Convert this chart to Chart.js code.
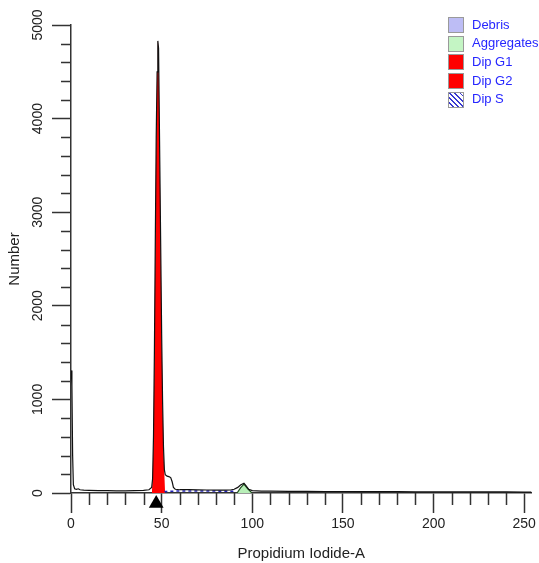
<!DOCTYPE html>
<html>
<head>
<meta charset="utf-8">
<script src="https://cdn.jsdelivr.net/npm/chart.js@4.4.1/dist/chart.umd.min.js"></script>
<style>
    body { margin: 0; background: #fff; }
    #wrap { position: relative; width: 539px; height: 563px; }
    .lg-box { position: absolute; width: 14px; height: 14px; border: 1px solid #9a9a9a; }
    .lg-text { position: absolute; font: 13px "Liberation Sans", Arial, sans-serif; color: #2626ff; line-height: 16px; white-space: nowrap; }
</style>
</head>
<body>
<div id="wrap">
    <canvas id="chart" width="539" height="563"></canvas>
    <div id="legend"></div>
</div>
<script>
// ============================================
// Data
// ============================================

// measured histogram outline
const channels = [0.15, 0.5, 0.9, 1.3, 2, 3, 4, 5, 7, 10, 15, 20, 25, 30, 35, 40, 43, 44.5, 45, 45.5,
    46, 46.5, 47, 47.5, 47.9, 48.3, 49, 49.5, 50, 50.5, 51, 51.5, 52, 53, 54, 55, 55.8, 56.5, 57.5, 60,
    65, 70, 75, 80, 85, 88, 90, 92, 93.5, 95.4, 96.5, 98, 100, 105, 110, 120, 130, 140, 150, 160,
    170, 180, 190, 200, 210, 220, 230, 240, 250, 254];
const counts = [1310, 1150, 400, 90, 45, 40, 45, 35, 30, 28, 25, 25, 22, 22, 25, 28, 35, 60, 150, 600,
    1500, 2700, 3800, 4500, 4830, 4750, 3500, 2600, 1700, 1000, 500, 250, 195, 180, 175, 165, 120, 60, 40, 35,
    35, 33, 32, 30, 30, 32, 40, 60, 85, 105, 80, 40, 25, 20, 20, 18, 17, 16, 16, 15,
    14, 14, 13, 13, 12, 12, 11, 11, 10, 10];

// Dip G1 model (red)
const g1Channels = [44.6, 45, 45.5, 46, 46.5, 47, 47.5, 47.9, 48.3, 49, 49.5, 50, 50.5, 51, 51.5, 51.9];
const g1Counts = [0, 150, 600, 1500, 2700, 3800, 4500, 4830, 4750, 3500, 2600, 1700, 1000, 500, 200, 0];

// Aggregates (green)
const aggChannels = [91.6, 93.5, 95.4, 97.5, 99.8];
const aggCounts = [0, 55, 95, 45, 0];

// Dip S (blue dashed)
const sChannels = [51.5, 60, 70, 80, 91];
const sCounts = [15, 22, 22, 20, 18];

// gate marker under the axis
const markerChannel = 47;
const markerCount = -112;

const xTicks = [0, 50, 100, 150, 200, 250];
const yTicks = [0, 1000, 2000, 3000, 4000, 5000];
const xMinorStep = 10;
const yMinorStep = 200;

const legendLabels = ['Debris', 'Aggregates', 'Dip G1', 'Dip G2', 'Dip S'];
const legendColors = ['#bdbdf5', '#c4f5c4', '#ff0000', '#ff0000', 'hatch'];

const FONT = '"Liberation Sans", Arial, sans-serif';

function toPoints(xs, ys) {
    const pts = [];
    for (let i = 0; i < xs.length; i++) {
        pts.push({ x: xs[i], y: ys[i] });
    }
    return pts;
}

// ============================================
// Legend (html)
// ============================================

function buildLegend() {
    const lg = document.getElementById('legend');
    for (let i = 0; i < legendLabels.length; i++) {
        const top = 17 + i * 18.7;
        const box = document.createElement('div');
        box.className = 'lg-box';
        box.style.left = '448px';
        box.style.top = top + 'px';
        if (legendColors[i] === 'hatch') {
            box.style.background = 'repeating-linear-gradient(45deg, #fff 0px, #fff 2.6px, #3a3ad0 2.6px, #3a3ad0 3.6px)';
        } else {
            box.style.background = legendColors[i];
        }
        lg.appendChild(box);

        const txt = document.createElement('div');
        txt.className = 'lg-text';
        txt.style.left = '472px';
        txt.style.top = (top - 0.5) + 'px';
        txt.textContent = legendLabels[i];
        lg.appendChild(txt);
    }
}

// ============================================
// Plugins: minor ticks + rotated y labels
// ============================================

const axisExtras = {
    id: 'axisExtras',
    afterDraw(chart) {
        const ctx = chart.ctx;
        const xs = chart.scales.x;
        const ys = chart.scales.y;
        const area = chart.chartArea;

        ctx.save();
        ctx.strokeStyle = '#333';
        ctx.lineWidth = 1.5;
        ctx.beginPath();
        for (let v = xMinorStep; v <= xs.max; v += xMinorStep) {
            if (v % 50 === 0) continue;
            const px = Math.round(xs.getPixelForValue(v)) + 0.5;
            ctx.moveTo(px, area.bottom);
            ctx.lineTo(px, area.bottom + 12);
        }
        for (let v = yMinorStep; v < ys.max; v += yMinorStep) {
            if (v % 1000 === 0) continue;
            const py = Math.round(ys.getPixelForValue(v)) + 0.5;
            ctx.moveTo(area.left - 10, py);
            ctx.lineTo(area.left, py);
        }
        ctx.stroke();

        // y tick labels are written sideways
        ctx.fillStyle = '#222';
        ctx.font = '14px ' + FONT;
        ctx.textAlign = 'center';
        ctx.textBaseline = 'middle';
        for (let i = 0; i < yTicks.length; i++) {
            const py = ys.getPixelForValue(yTicks[i]);
            ctx.save();
            ctx.translate(38, py);
            ctx.rotate(-Math.PI / 2);
            ctx.fillText(String(yTicks[i]), 0, 0);
            ctx.restore();
        }
        ctx.restore();
    }
};

// ============================================
// Chart
// ============================================

function renderChart() {
    const ctx = document.getElementById('chart').getContext('2d');

    new Chart(ctx, {
        type: 'line',
        data: {
            datasets: [
                {
                    label: 'Histogram',
                    data: toPoints(channels, counts),
                    borderColor: '#111',
                    borderWidth: 1.2,
                    pointRadius: 0,
                    fill: false,
                    tension: 0,
                    order: 0
                },
                {
                    label: 'Dip G1',
                    data: toPoints(g1Channels, g1Counts),
                    borderColor: 'rgba(0,0,0,0)',
                    borderWidth: 0,
                    backgroundColor: '#ff0000',
                    pointRadius: 0,
                    fill: 'origin',
                    order: 3
                },
                {
                    label: 'Aggregates',
                    data: toPoints(aggChannels, aggCounts),
                    borderColor: '#1f4d1f',
                    borderWidth: 1.2,
                    backgroundColor: '#b8efb8',
                    pointRadius: 0,
                    fill: 'origin',
                    order: 2
                },
                {
                    label: 'Dip S',
                    data: toPoints(sChannels, sCounts),
                    borderColor: '#2424b8',
                    borderWidth: 1.5,
                    borderDash: [3, 3],
                    pointRadius: 0,
                    fill: false,
                    order: 1
                },
                {
                    // transparent wide border keeps the point "in area" so it still gets drawn below the axis
                    label: 'Marker',
                    data: [{ x: markerChannel, y: markerCount }],
                    showLine: false,
                    pointStyle: 'triangle',
                    pointRadius: 8.5,
                    pointBackgroundColor: '#000',
                    pointBorderColor: 'rgba(0,0,0,0)',
                    pointBorderWidth: 4,
                    clip: false,
                    order: 0
                }
            ]
        },
        options: {
            responsive: false,
            animation: false,
            layout: { autoPadding: false, padding: { top: 25, right: 6, left: 0, bottom: 0 } },
            plugins: {
                legend: { display: false },
                tooltip: { enabled: false }
            },
            scales: {
                x: {
                    type: 'linear',
                    min: 0,
                    max: 254,
                    afterBuildTicks: function(s) { s.ticks = xTicks.map(v => ({ value: v })); },
                    afterFit: function(s) { s.height = 70; },
                    grid: { drawOnChartArea: false, tickLength: 20, tickColor: '#333', tickWidth: 1.5 },
                    border: { color: '#333', width: 1.5 },
                    ticks: { color: '#222', font: { family: FONT, size: 14 }, padding: 3, maxRotation: 0 },
                    title: {
                        display: true, text: 'Propidium Iodide-A', color: '#222',
                        font: { family: FONT, size: 15 }, padding: { top: 3, bottom: 0 }
                    }
                },
                y: {
                    min: 0,
                    max: 5000,
                    afterBuildTicks: function(s) { s.ticks = yTicks.map(v => ({ value: v })); },
                    afterFit: function(s) { s.width = 71; },
                    grid: { drawOnChartArea: false, tickLength: 19, tickColor: '#333', tickWidth: 1.5 },
                    border: { color: '#333', width: 1.5 },
                    ticks: { display: false },
                    title: {
                        display: true, text: 'Number', color: '#222',
                        font: { family: FONT, size: 15 }, padding: { top: 6, bottom: 0 }
                    }
                }
            }
        },
        plugins: [axisExtras]
    });
}

buildLegend();
renderChart();
</script>
</body>
</html>
